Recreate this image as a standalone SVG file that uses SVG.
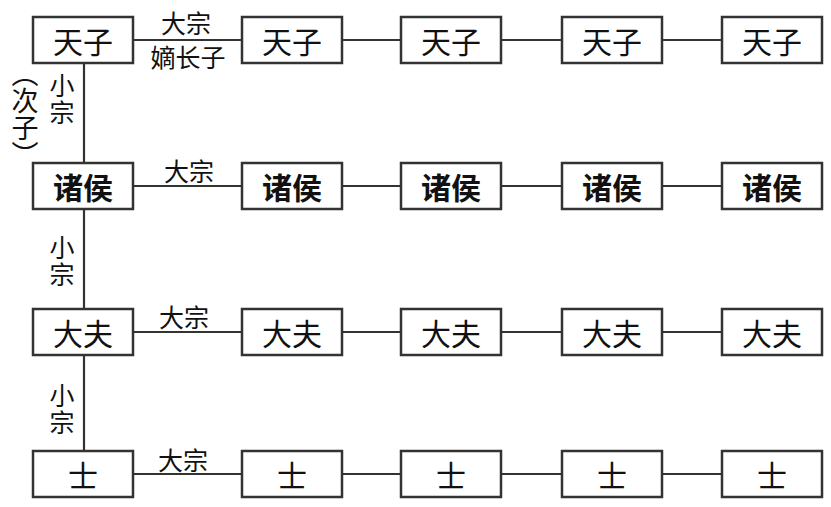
<svg xmlns="http://www.w3.org/2000/svg" width="831" height="507" viewBox="0 0 831 507">
<style>
.box{fill:#fff;stroke:#333;stroke-width:2.5}
.ln{stroke:#333;stroke-width:2.2;fill:none}
.t{font-family:"Noto Sans CJK SC",sans-serif;font-size:30px;fill:#111;text-anchor:middle;dominant-baseline:central}
.b{font-weight:bold}
.l{font-family:"Noto Sans CJK SC",sans-serif;font-size:25px;fill:#111;text-anchor:middle}
.v{font-family:"Noto Sans CJK SC",sans-serif;font-size:25px;fill:#111;writing-mode:vertical-rl;text-anchor:start;letter-spacing:2px}
</style>
<rect width="831" height="507" fill="#fff"/>
<g id="connectors">
<line class="ln" x1="84" y1="63" x2="84" y2="451"/>
<line class="ln" x1="133" y1="40" x2="722" y2="40"/>
<line class="ln" x1="133" y1="186" x2="722" y2="186"/>
<line class="ln" x1="133" y1="332" x2="722" y2="332"/>
<line class="ln" x1="133" y1="474" x2="722" y2="474"/>
<text class="l" x="186" y="33">大宗</text>
<text class="l" x="188" y="67">嫡长子</text>
<text class="l" x="189" y="181">大宗</text>
<text class="l" x="184" y="327">大宗</text>
<text class="l" x="183" y="470">大宗</text>
<text class="v" x="62" y="73">小宗</text>
<text class="v" x="62" y="235">小宗</text>
<text class="v" x="62" y="383">小宗</text>
<text class="v" x="25" y="60" style="font-size:27px;letter-spacing:0">（次子）</text>
</g>
<g id="r1c1"><rect class="box" x="33" y="17" width="100" height="46"/><text class="t" x="83" y="40">天子</text></g>
<g id="r1c2"><rect class="box" x="242" y="17" width="100" height="46"/><text class="t" x="292" y="40">天子</text></g>
<g id="r1c3"><rect class="box" x="401" y="17" width="100" height="46"/><text class="t" x="451" y="40">天子</text></g>
<g id="r1c4"><rect class="box" x="562" y="17" width="100" height="46"/><text class="t" x="612" y="40">天子</text></g>
<g id="r1c5"><rect class="box" x="722" y="17" width="100" height="46"/><text class="t" x="772" y="40">天子</text></g>
<g id="r2c1"><rect class="box" x="33" y="163" width="100" height="46"/><text class="t b" x="83" y="186">诸侯</text></g>
<g id="r2c2"><rect class="box" x="242" y="163" width="100" height="46"/><text class="t b" x="292" y="186">诸侯</text></g>
<g id="r2c3"><rect class="box" x="401" y="163" width="100" height="46"/><text class="t b" x="451" y="186">诸侯</text></g>
<g id="r2c4"><rect class="box" x="562" y="163" width="100" height="46"/><text class="t b" x="612" y="186">诸侯</text></g>
<g id="r2c5"><rect class="box" x="722" y="163" width="100" height="46"/><text class="t b" x="772" y="186">诸侯</text></g>
<g id="r3c1"><rect class="box" x="33" y="309" width="100" height="46"/><text class="t" x="83" y="332">大夫</text></g>
<g id="r3c2"><rect class="box" x="242" y="309" width="100" height="46"/><text class="t" x="292" y="332">大夫</text></g>
<g id="r3c3"><rect class="box" x="401" y="309" width="100" height="46"/><text class="t" x="451" y="332">大夫</text></g>
<g id="r3c4"><rect class="box" x="562" y="309" width="100" height="46"/><text class="t" x="612" y="332">大夫</text></g>
<g id="r3c5"><rect class="box" x="722" y="309" width="100" height="46"/><text class="t" x="772" y="332">大夫</text></g>
<g id="r4c1"><rect class="box" x="33" y="451" width="100" height="46"/><text class="t" x="83" y="474">士</text></g>
<g id="r4c2"><rect class="box" x="242" y="451" width="100" height="46"/><text class="t" x="292" y="474">士</text></g>
<g id="r4c3"><rect class="box" x="401" y="451" width="100" height="46"/><text class="t" x="451" y="474">士</text></g>
<g id="r4c4"><rect class="box" x="562" y="451" width="100" height="46"/><text class="t" x="612" y="474">士</text></g>
<g id="r4c5"><rect class="box" x="722" y="451" width="100" height="46"/><text class="t" x="772" y="474">士</text></g>
</svg>
